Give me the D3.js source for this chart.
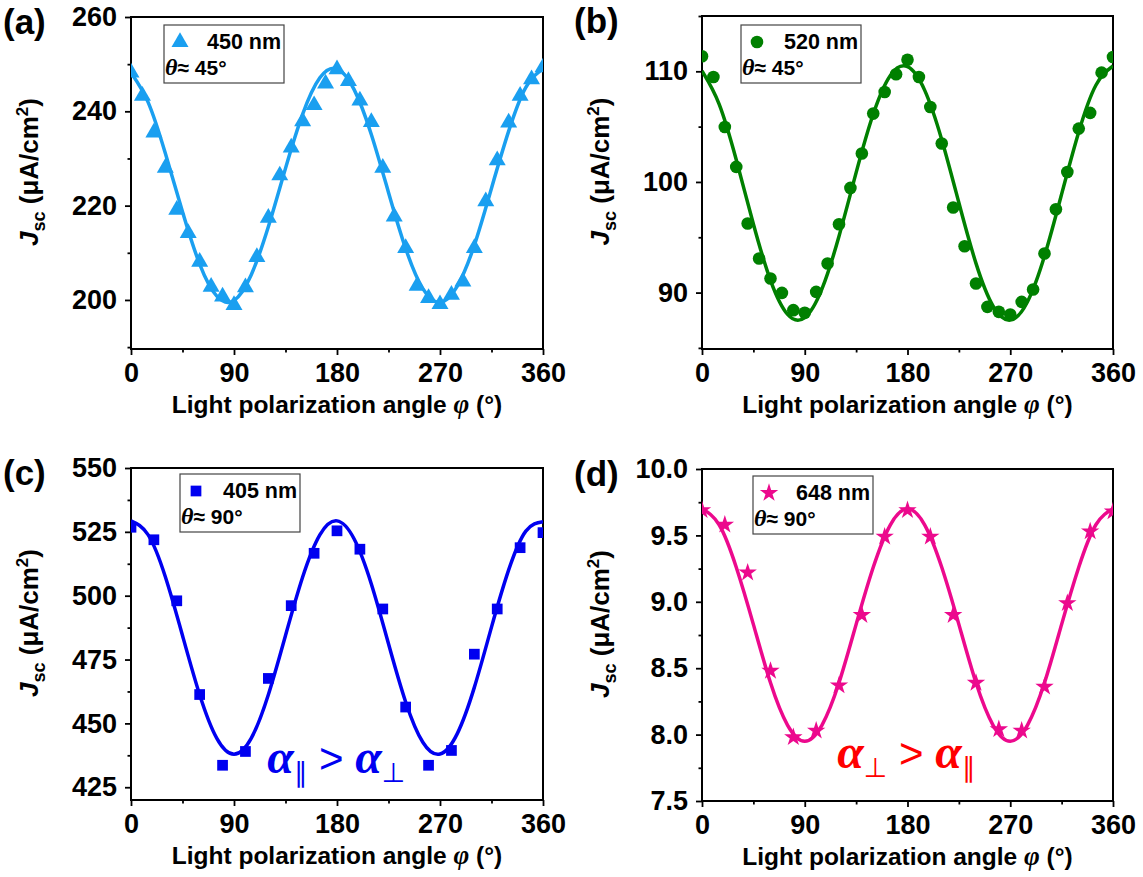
<!DOCTYPE html>
<html>
<head>
<meta charset="utf-8">
<script src="https://cdn.jsdelivr.net/npm/d3@7"></script>
<style>
  body { margin: 0; background: #fff; }
  svg { display: block; font-family: "Liberation Sans", Arial, sans-serif; }
</style>
</head>
<body>
<div id="chart-area"></div>
<script>
// x values (light polarization angle, degrees)
var angles10 = [0, 10, 20, 30, 40, 50, 60, 70, 80, 90, 100, 110, 120, 130, 140, 150, 160, 170, 180,
  190, 200, 210, 220, 230, 240, 250, 260, 270, 280, 290, 300, 310, 320, 330, 340, 350, 360];
var angles20 = [0, 20, 40, 60, 80, 100, 120, 140, 160, 180, 200, 220, 240, 260, 280, 300, 320, 340, 360];
var fitAngles = [0, 15, 30, 45, 60, 75, 90, 105, 120, 135, 150, 165, 180,
  195, 210, 225, 240, 255, 270, 285, 300, 315, 330, 345, 360];
var xMajor = [0, 90, 180, 270, 360];
var xMinor = [45, 135, 225, 315];

// (a) 450 nm
var jscA = [248.2, 243.3, 235.5, 228.0, 219.1, 214.2, 208.1, 202.8, 200.7, 198.9, 202.7, 209.1, 217.4,
  226.4, 232.3, 237.9, 241.3, 245.9, 248.9, 246.4, 242.3, 237.7, 228.0, 217.7, 211.0, 203.0, 200.4,
  199.1, 201.1, 203.9, 211.0, 220.9, 229.6, 237.6, 243.3, 246.8, 249.3];
var fitA = [248.2, 241.9, 231.1, 218.7, 207.6, 200.8, 199.9, 205.3, 215.5, 227.9, 239.4, 247.1, 249.0,
  244.6, 235.1, 222.8, 210.9, 202.4, 199.5, 202.9, 211.6, 223.7, 235.8, 245.1, 249.0];
var ticksA = [200, 220, 240, 260];
var minorA = [190, 210, 230, 250];

// (b) 520 nm
var jscB = [111.36, 109.49, 104.97, 101.36, 96.24, 93.08, 91.27, 89.97, 88.41, 88.17, 90.06, 92.63,
  96.18, 99.46, 102.57, 106.18, 108.13, 109.73, 111.05, 109.49, 106.78, 103.47, 97.69, 94.19, 90.82,
  88.71, 88.26, 88.02, 89.16, 90.28, 93.53, 97.53, 100.90, 104.82, 106.24, 109.88, 111.29];
var fitB = [110.03, 107.03, 102.00, 96.20, 91.11, 88.03, 87.74, 90.31, 95.09, 100.84, 106.14, 109.63,
  110.42, 108.30, 103.82, 98.12, 92.64, 88.77, 87.51, 89.15, 93.30, 98.90, 104.52, 108.74, 110.48];
var ticksB = [90, 100, 110];
var minorB = [85, 95, 105, 115];

// (c) 405 nm
var jscC = [526.8, 521.9, 498.0, 461.3, 433.6, 439.0, 467.6, 496.1, 516.6, 525.4, 518.2, 494.8,
  456.4, 433.6, 439.4, 477.1, 494.8, 518.8, 524.7];
var fitC = [529.3, 523.8, 507.4, 484.4, 461.2, 444.1, 437.9, 444.1, 461.2, 484.4, 507.3, 523.8, 529.3,
  522.2, 504.6, 481.2, 458.4, 442.6, 438.0, 445.9, 464.1, 487.7, 510.1, 525.3, 529.0];
var ticksC = [425, 450, 475, 500, 525, 550];
var minorC = [437.5, 462.5, 487.5, 512.5, 537.5];

// (d) 648 nm
var jscD = [9.69, 9.58, 9.22, 8.48, 7.98, 8.03, 8.37, 8.90, 9.49, 9.69, 9.49, 8.90, 8.39, 8.04,
  8.03, 8.36, 8.99, 9.53, 9.68];
var fitD = [9.70, 9.58, 9.26, 8.83, 8.39, 8.07, 7.95, 8.07, 8.39, 8.83, 9.26, 9.58, 9.70,
  9.58, 9.26, 8.83, 8.39, 8.07, 7.95, 8.07, 8.39, 8.83, 9.26, 9.58, 9.70];
var ticksD = [7.5, 8.0, 8.5, 9.0, 9.5, 10.0];
var minorD = [7.75, 8.25, 8.75, 9.25, 9.75];

var panels = [
  {key: 'a', label: '(a)', left: 131, top: 17, width: 412, height: 332,
    yDomain: [189.6, 260], ticks: ticksA, minor: minorA, fmt: d3.format('d'),
    angles: angles10, values: jscA, fit: fitA, color: '#1a9ff0',
    symbol: d3.symbolTriangle, size: 125, name: '450 nm', theta: '45°', legend: [164, 25]},
  {key: 'b', label: '(b)', left: 702, top: 16, width: 411, height: 333,
    yDomain: [84.9, 115], ticks: ticksB, minor: minorB, fmt: d3.format('d'),
    angles: angles10, values: jscB, fit: fitB, color: '#008000',
    symbol: d3.symbolCircle, size: 125, name: '520 nm', theta: '45°', legend: [741, 25]},
  {key: 'c', label: '(c)', left: 131, top: 468, width: 412, height: 332,
    yDomain: [420, 550], ticks: ticksC, minor: minorC, fmt: d3.format('d'),
    angles: angles20, values: jscC, fit: fitC, color: '#0000f0',
    symbol: d3.symbolSquare, size: 115, name: '405 nm', theta: '90°', legend: [180, 474]},
  {key: 'd', label: '(d)', left: 702, top: 469, width: 411, height: 332,
    yDomain: [7.5, 10], ticks: ticksD, minor: minorD, fmt: d3.format('.1f'),
    angles: angles20, values: jscD, fit: fitD, color: '#ec098d',
    symbol: d3.symbolStar, size: 105, name: '648 nm', theta: '90°', legend: [753, 476]}
];

var svg = d3.select('#chart-area')
  .append('svg')
    .attr('width', 1143)
    .attr('height', 877);

panels.forEach(function(p) {
  var g = svg.append('g')
    .attr('transform', 'translate(' + p.left + ',' + p.top + ')');

  var x = d3.scaleLinear().domain([0, 360]).range([0, p.width]);
  var y = d3.scaleLinear().domain(p.yDomain).range([p.height, 0]);
  p.x = x; p.y = y;

  g.append('clipPath').attr('id', 'clip-' + p.key)
    .append('rect').attr('width', p.width).attr('height', p.height);

  // X axis, major + minor
  var xg = g.append('g')
    .attr('transform', 'translate(0,' + p.height + ')')
    .call(d3.axisBottom(x).tickValues(xMajor).tickSize(6).tickPadding(8));
  var xm = g.append('g')
    .attr('transform', 'translate(0,' + p.height + ')')
    .call(d3.axisBottom(x).tickValues(xMinor).tickSize(3.5).tickFormat(''));
  // Y axis, major + minor
  var yg = g.append('g')
    .call(d3.axisLeft(y).tickValues(p.ticks).tickFormat(p.fmt).tickSize(6).tickPadding(8));
  var ym = g.append('g')
    .call(d3.axisLeft(y).tickValues(p.minor).tickSize(3.5).tickFormat(''));

  [xg, xm, yg, ym].forEach(function(a) {
    a.select('.domain').remove();
    a.attr('font-family', '"Liberation Sans", Arial, sans-serif')
      .attr('font-size', 27)
      .attr('font-weight', 'bold');
    a.selectAll('.tick line').attr('stroke', '#000').attr('stroke-width', 1.8);
    a.selectAll('.tick text').attr('fill', '#000');
  });

  // frame
  g.append('rect')
    .attr('width', p.width)
    .attr('height', p.height)
    .attr('fill', 'none')
    .attr('stroke', '#000')
    .attr('stroke-width', 2);

  var plot = g.append('g').attr('clip-path', 'url(#clip-' + p.key + ')');

  // fit curve
  var line = d3.line()
    .x(function(d, i) { return x(fitAngles[i]); })
    .y(function(d) { return y(d); })
    .curve(d3.curveNatural);
  plot.append('path')
    .datum(p.fit)
    .attr('d', line)
    .attr('fill', 'none')
    .attr('stroke', p.color)
    .attr('stroke-width', 3.5);

  // measured points
  plot.selectAll('.pt')
    .data(p.values)
    .join('path')
      .attr('class', 'pt')
      .attr('transform', function(d, i) { return 'translate(' + x(p.angles[i]) + ',' + y(d) + ')'; })
      .attr('d', d3.symbol().type(p.symbol).size(p.size))
      .attr('fill', p.color);

  // axis titles
  var xt = svg.append('text')
    .attr('x', p.left + p.width / 2)
    .attr('y', p.top + p.height + 64)
    .attr('text-anchor', 'middle')
    .attr('font-size', 24.5)
    .attr('font-weight', 'bold');
  xt.append('tspan').text('Light polarization angle ');
  xt.append('tspan')
    .attr('font-family', '"Liberation Serif", serif')
    .attr('font-style', 'italic')
    .attr('font-size', 27)
    .text('φ');
  xt.append('tspan').text(' (°)');

  var yt = svg.append('text')
    .attr('transform', 'translate(' + (p.left - 93) + ',' + (p.top + p.height / 2 - 11) + ') rotate(-90)')
    .attr('text-anchor', 'middle')
    .attr('font-size', 26)
    .attr('font-weight', 'bold');
  yt.append('tspan').attr('font-style', 'italic').text('J');
  yt.append('tspan').attr('font-size', 18).attr('dy', 7).text('sc');
  yt.append('tspan').attr('dy', -7).text(' (μA/cm');
  yt.append('tspan').attr('font-size', 17).attr('dy', -10).text('2');
  yt.append('tspan').attr('dy', 10).text(')');

  // panel label
  svg.append('text')
    .attr('x', p.left - 128)
    .attr('y', p.top + 17)
    .attr('font-size', 35)
    .attr('font-weight', 'bold')
    .text(p.label);

  // legend
  var lg = svg.append('g')
    .attr('transform', 'translate(' + p.legend[0] + ',' + p.legend[1] + ')');
  lg.append('rect')
    .attr('width', 120)
    .attr('height', 58)
    .attr('fill', '#fff')
    .attr('stroke', '#444')
    .attr('stroke-width', 1.2);
  lg.append('path')
    .attr('transform', 'translate(16,17)')
    .attr('d', d3.symbol().type(p.symbol).size(p.size))
    .attr('fill', p.color);
  lg.append('text')
    .attr('x', 43)
    .attr('y', 24)
    .attr('font-size', 21.5)
    .attr('font-weight', 'bold')
    .text(p.name);
  var th = lg.append('text')
    .attr('x', 1)
    .attr('y', 50)
    .attr('font-size', 21)
    .attr('font-weight', 'bold');
  th.append('tspan')
    .attr('font-family', '"Liberation Serif", serif')
    .attr('font-style', 'italic')
    .attr('font-size', 24)
    .text('θ');
  th.append('tspan').text('≈ ' + p.theta);
});

// anisotropy annotations
function alphaNote(p, phi, val, first, second, color) {
  var t = svg.append('text')
    .attr('x', p.left + p.x(phi))
    .attr('y', p.top + p.y(val))
    .attr('fill', color);
  t.append('tspan')
    .attr('font-family', '"Liberation Serif", serif')
    .attr('font-style', 'italic').attr('font-weight', 'bold')
    .attr('font-size', 48).text('α');
  t.append('tspan')
    .attr('font-family', '"DejaVu Sans", sans-serif')
    .attr('font-size', 27).attr('dy', 9).text(first);
  t.append('tspan')
    .attr('font-size', 42).attr('dy', -9).text(' > ');
  t.append('tspan')
    .attr('font-family', '"Liberation Serif", serif')
    .attr('font-style', 'italic').attr('font-weight', 'bold')
    .attr('font-size', 48).text('α');
  t.append('tspan')
    .attr('font-family', '"DejaVu Sans", sans-serif')
    .attr('font-size', 27).attr('dy', 9).text(second);
}
alphaNote(panels[2], 119, 430.4, '∥', '⊥', '#0000f0');
alphaNote(panels[3], 118.5, 7.75, '⊥', '∥', '#ff0000');
</script>
</body>
</html>
